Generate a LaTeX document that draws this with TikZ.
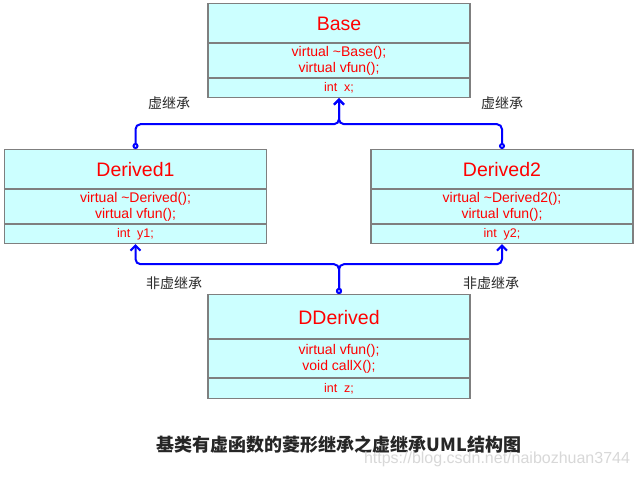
\documentclass[tikz,border=0pt]{standalone}
\usepackage{fontspec}
\setmainfont{Liberation Sans}
\newfontfamily\cjk{Noto Sans CJK SC}
\usetikzlibrary{arrows.meta}
\definecolor{boxfill}{HTML}{CCFFFF}
\definecolor{boxgray}{HTML}{7F7F7F}
\definecolor{linkblue}{HTML}{0000FF}
\definecolor{labelgray}{HTML}{2A2A2A}
\definecolor{wmgray}{HTML}{D8D8D8}
\begin{document}
\begin{tikzpicture}[x=1pt,y=-1pt,
  part/.style={draw=boxgray, line width=1.2pt, fill=boxfill, inner sep=0pt,
    text=red, align=center, anchor=north, minimum width=262pt},
  titlepart/.style={part, minimum height=40pt, font=\fontsize{19.5}{24}\selectfont},
  methodpart/.style={part, minimum height=35pt, font=\fontsize{14}{16}\selectfont},
  fieldpart/.style={part, minimum height=19pt, font=\fontsize{12.5}{14}\selectfont},
  divider/.style={draw=boxgray, line width=2.2pt},
  thindivider/.style={draw=boxgray, line width=1.2pt},
  link/.style={draw=linkblue, line width=2pt, rounded corners=5pt,
    {Circle[open,fill=white,length=6pt,width=6pt]}-{Straight Barb[length=5pt,width=10pt,line width=2pt]}},
  lbl/.style={text=labelgray, font=\cjk\fontsize{14}{16}\selectfont, inner sep=0pt}
]
\useasboundingbox[fill=white] (0,0) rectangle (639,476);

% Base
\node[titlepart] (baseT) at (339,3) {Base};
\node[methodpart] (baseM) at (339,43) {virtual \textasciitilde Base();\\virtual vfun();};
\node[fieldpart] (baseF) at (339,78) {int\ \ x;};
\draw[divider] (baseM.north west) -- (baseM.north east);
\draw[divider] (baseF.north west) -- (baseF.north east);

% Derived1
\node[titlepart] (d1T) at (135.5,149) {Derived1};
\node[methodpart] (d1M) at (135.5,189) {virtual \textasciitilde Derived();\\virtual vfun();};
\node[fieldpart] (d1F) at (135.5,224) {int\ \ y1;};
\draw[divider] (d1M.north west) -- (d1M.north east);
\draw[divider] (d1F.north west) -- (d1F.north east);

% Derived2
\node[titlepart] (d2T) at (502,149) {Derived2};
\node[methodpart] (d2M) at (502,189) {virtual \textasciitilde Derived2();\\virtual vfun();};
\node[fieldpart] (d2F) at (502,224) {int\ \ y2;};
\draw[divider] (d2M.north west) -- (d2M.north east);
\draw[divider] (d2F.north west) -- (d2F.north east);

% DDerived
\node[titlepart, minimum height=45pt] (ddT) at (339,294) {DDerived};
\node[methodpart, minimum height=39pt] (ddM) at (339,339) {virtual vfun();\\void callX();};
\node[fieldpart, minimum height=20pt] (ddF) at (339,378) {int\ \ z;};
\draw[divider] (ddM.north west) -- (ddM.north east);
\draw[thindivider] (ddF.north west) -- (ddF.north east);

% virtual inheritance links
\draw[link] (d1T.north) |- ([yshift=-26pt]baseF.south) -- (baseF.south);
\draw[link] (d2T.north) |- ([yshift=-26pt]baseF.south) -- (baseF.south);
% non-virtual inheritance links
\draw[link] (ddT.north) |- ([yshift=-20pt]d1F.south) -- (d1F.south);
\draw[link] (ddT.north) |- ([yshift=-20pt]d2F.south) -- (d2F.south);

% labels
\node[lbl] (v1) at (169,103) {虚继承};
\node[lbl] (v2) at (502,103) {虚继承};
\node[lbl] (n1) at (174,283) {非虚继承};
\node[lbl] (n2) at (491,283) {非虚继承};

% caption
\node[inner sep=0pt, text=black!85, font=\cjk\bfseries\fontsize{18}{20}\selectfont] (cap) at (339,445) {基类有虚函数的菱形继承之虚继承UML结构图};
\node[inner sep=0pt, text=wmgray, font=\fontsize{16}{18}\selectfont] (wm) at (497,459) {https://blog.csdn.net/naibozhuan3744};
\end{tikzpicture}
\end{document}
